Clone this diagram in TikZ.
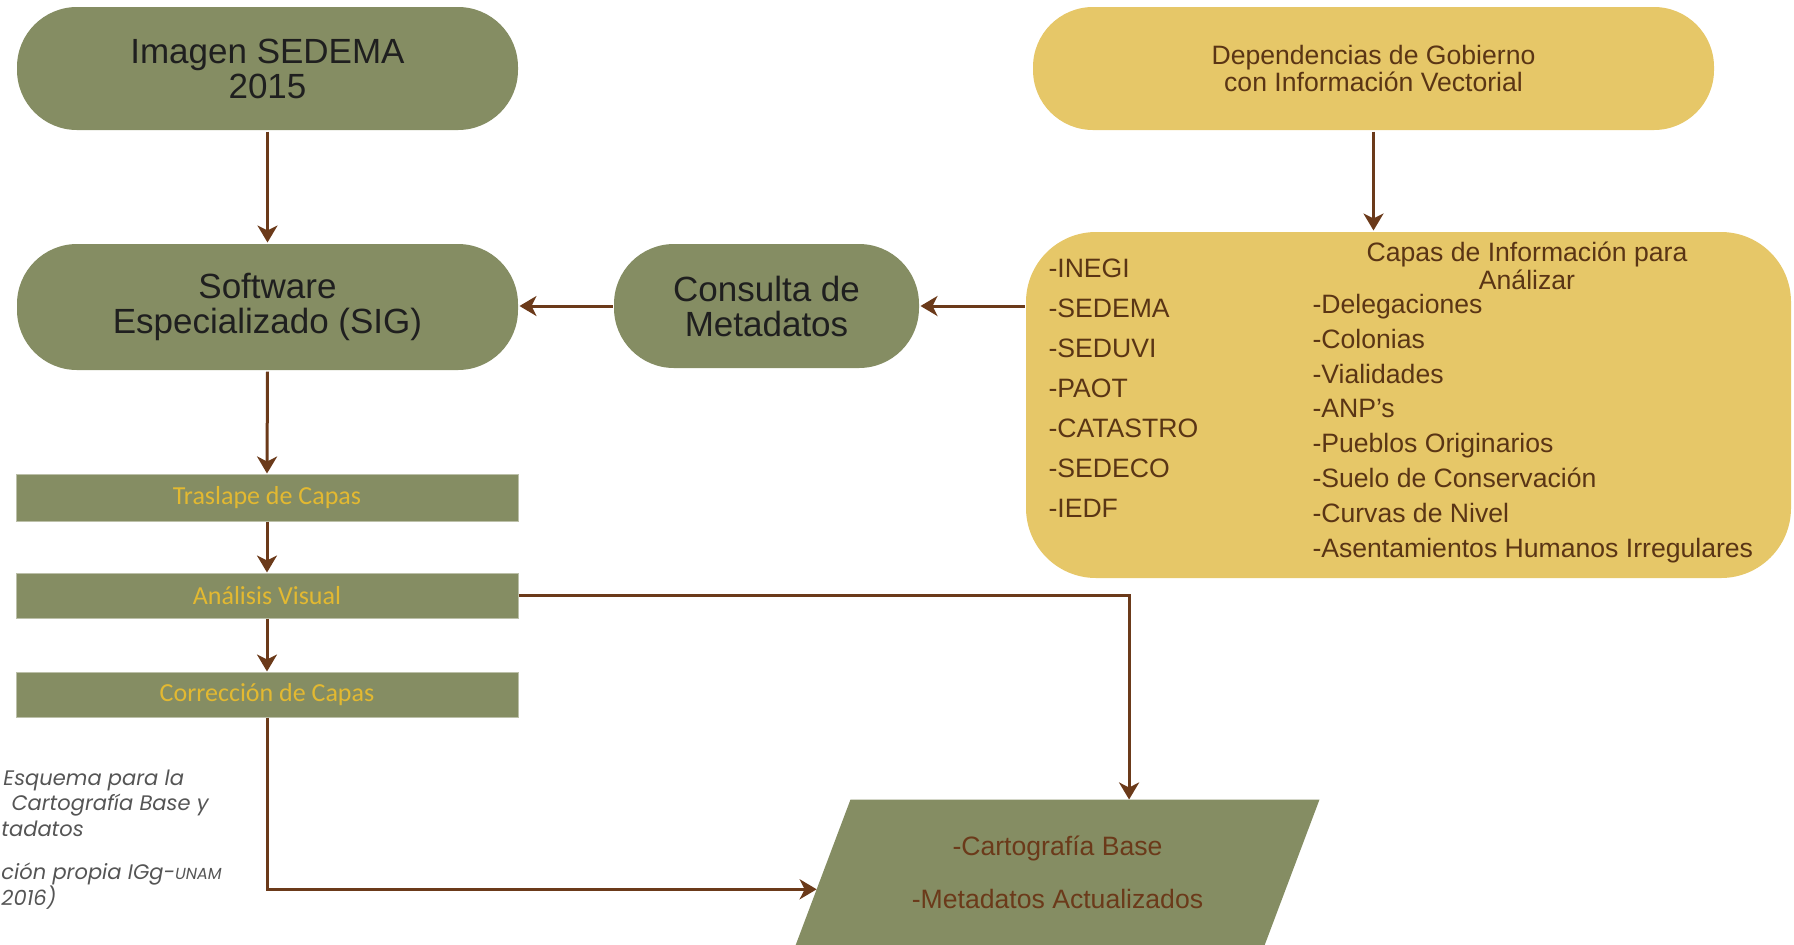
\documentclass[tikz,border=0pt]{standalone}
\usepackage{fontspec}
\setmainfont{Liberation Sans}
\newfontfamily\barfont{Carlito}
\newfontfamily\notefont{Poppins}
\usetikzlibrary{arrows.meta,calc,backgrounds}

\definecolor{sedgreen}{HTML}{858D63}
\definecolor{sedyellow}{HTML}{E6C768}
\definecolor{arrowbrown}{HTML}{6B3A1A}
\definecolor{listbrown}{HTML}{5A3515}
\definecolor{bartext}{HTML}{E3B931}
\definecolor{notegray}{HTML}{555555}

\begin{document}
\begin{tikzpicture}[x=0.5pt, y=-0.5pt, line width=1.5pt,
  pill/.style={fill=sedgreen, rounded corners=30pt, inner sep=0pt, align=center,
    text=black!88, font=\fontsize{17.5}{17.5}\selectfont},
  bar/.style={fill=sedgreen, draw=sedgreen!55!white, line width=0.5pt, minimum width=251pt,
    inner sep=0pt, text=bartext, font=\barfont\fontsize{13}{13}\selectfont},
  listtext/.style={inner sep=0pt, anchor=base west, text=listbrown,
    font=\fontsize{13.3}{13.75}\selectfont},
  note/.style={inner sep=0pt, anchor=base west, text=notegray,
    font=\notefont\itshape\fontsize{10.5}{10.5}\selectfont},
  flow/.style={draw=arrowbrown, -{Stealth[length=8.5pt, width=10pt, inset=2.5pt]}}]
  \useasboundingbox (0,0) rectangle (1794,944);

  % left column
  \node[pill, minimum width=250.5pt, minimum height=61.5pt] (img) at (267.5,68.5) {Imagen SEDEMA\\2015};
  \node[pill, minimum width=250.5pt, minimum height=63pt] (sig) at (267.5,307) {Software\\Especializado (SIG)};
  \node[bar, minimum height=23.5pt] (tras) at (267,497.5) {Traslape de Capas};
  \node[bar, minimum height=22.5pt] (ana) at (267,595.5) {Análisis Visual};
  \node[bar, minimum height=22.5pt] (cor) at (267,694.5) {Corrección de Capas};

  \node[pill, minimum width=152.5pt, minimum height=62pt] (meta) at (766.5,306) {Consulta de\\Metadatos};

  % sources
  \node[pill, fill=sedyellow, text=listbrown, minimum width=340.5pt, minimum height=61.5pt,
    font=\fontsize{13.3}{13.5}\selectfont] (dep) at (1373.5,68.5) {Dependencias de Gobierno\\con Información Vectorial};
  \node[fill=sedyellow, rounded corners=35pt, minimum width=382.5pt, minimum height=173pt] (capas) at (1408.5,405) {};
  \foreach \t [count=\i] in {INEGI,SEDEMA,SEDUVI,PAOT,CATASTRO,SEDECO,IEDF}
    \node[listtext] (org\i) at (1047,{277.5+40*(\i-1)}) {-\t};
  \node[listtext, anchor=center, align=center] (capastit) at (1527,266) {Capas de Información para\\Análizar};
  \foreach \t [count=\i] in {Delegaciones,Colonias,Vialidades,ANP’s,Pueblos Originarios,
      Suelo de Conservación,Curvas de Nivel,Asentamientos Humanos Irregulares}
    \node[listtext] (lay\i) at (1311,{313.5+34.8*(\i-1)}) {-\t};

  % result (parallelogram behind the text node)
  \node[minimum width=260.5pt, minimum height=71.5pt, inner sep=0pt, align=center,
    text=arrowbrown, font=\fontsize{13.3}{26.5}\selectfont] (out) at (1057.5,872.5)
    {-Cartografía Base\\-Metadatos Actualizados};
  \coordinate (outtl) at ($(out.north west)+(55,0)$);
  \coordinate (outbr) at ($(out.south east)+(-55,0)$);
  \begin{scope}[on background layer]
    \fill[sedgreen] (outtl) -- (out.north east) -- (outbr) -- (out.south west) -- cycle;
  \end{scope}

  \draw[flow] (img.south) -- (sig.north);
  \draw[flow] (sig.south) -- (tras.north);
  \draw[flow] (tras.south) -- (ana.north);
  \draw[flow] (ana.south) -- (cor.north);
  \draw[flow] (meta.west) -- (meta.west -| sig.east);
  \draw[flow] (meta.east -| capas.west) -- (meta.east);
  \draw[flow] (dep.south) -- (dep.south |- capas.north);
  \draw[flow] (ana.east) -| ($(outtl)!0.594!(out.north east)$);
  \draw[flow] (cor.south) |- ($(out.south west)!0.385!(outtl)$);

  % caption
  \node[note] (cap1) at (2,785) {Esquema para la};
  \node[note] (cap2) at (10,810) {Cartografía Base y};
  \node[note] (cap3) at (0,836) {tadatos};
  \node[note] (cap4) at (0,879) {ción propia IGg-{\fontsize{8}{8}\selectfont UNAM}};
  \node[note] (cap5) at (0,905) {2016)};
\end{tikzpicture}
\end{document}
